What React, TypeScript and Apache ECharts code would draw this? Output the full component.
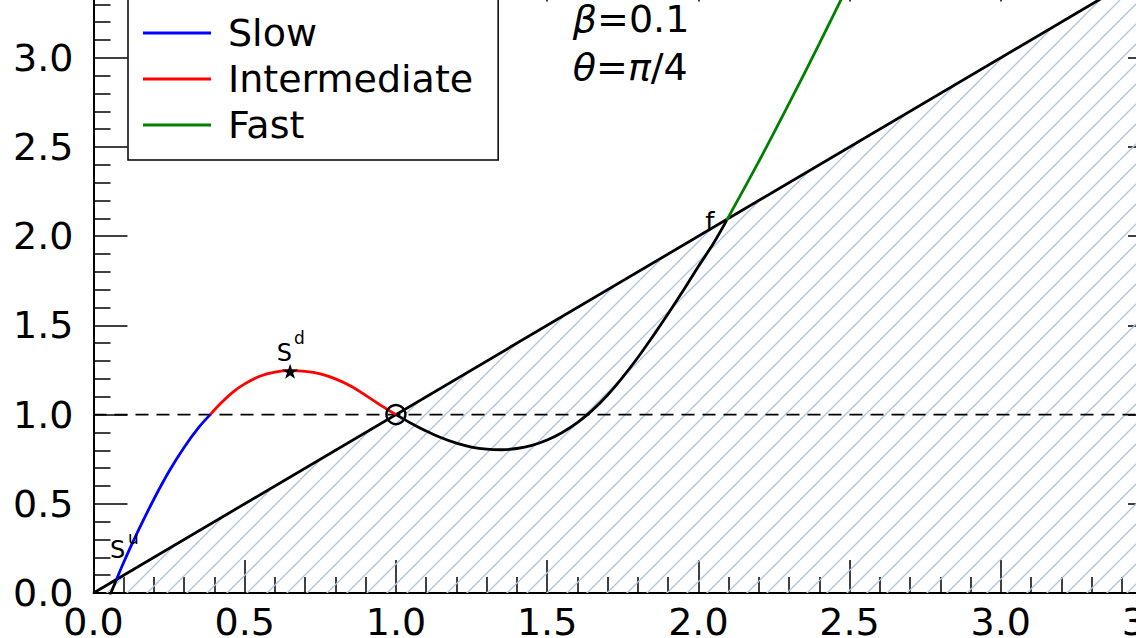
import React, { useEffect, useRef } from "react";
import * as echarts from "echarts";

// ---------- data ----------
const xRange: [number, number] = [0, 3.5];
const yRange: [number, number] = [0, 3.5];
const tickStep = 0.5;

const legendNames = ["Slow", "Intermediate", "Fast"];

// y = x boundary (hatched region lies below it)
const diagonalLine: [number, number][] = [[0, 0], [3.5, 3.5]];
// horizontal threshold y = 1
const thresholdLine: [number, number][] = [[0, 1], [3.5, 1]];

// black branch below the diagonal near the origin
const lowerBranchStart: [number, number][] = [[0.05, -0.03], [0.0575, 0], [0.076, 0.076]];

const slowCurve: [number, number][] = [
  [0.076, 0.076], [0.1, 0.172], [0.125, 0.267], [0.15, 0.357], [0.2, 0.527],
  [0.25, 0.682], [0.3, 0.817], [0.35, 0.932], [0.386, 1.0],
];

const intermediateCurve: [number, number][] = [
  [0.386, 1.0], [0.42, 1.062], [0.46, 1.125], [0.5, 1.172], [0.55, 1.215],
  [0.6, 1.238], [0.65, 1.246], [0.7, 1.242], [0.75, 1.228], [0.8, 1.2],
  [0.85, 1.16], [0.9, 1.108], [0.95, 1.052], [1.0, 1.0],
];

// black branch below the diagonal between the fixed point and f
const lowerBranchMid: [number, number][] = [
  [1.0, 1.0], [1.05, 0.952], [1.1, 0.908], [1.15, 0.87], [1.2, 0.84], [1.25, 0.818],
  [1.3, 0.806], [1.35, 0.803], [1.4, 0.81], [1.45, 0.828], [1.5, 0.858], [1.55, 0.9],
  [1.6, 0.955], [1.65, 1.025], [1.7, 1.11], [1.75, 1.21], [1.8, 1.32], [1.85, 1.44],
  [1.9, 1.565], [1.95, 1.695], [2.0, 1.83], [2.05, 1.96], [2.094, 2.09],
];

const fastCurve: [number, number][] = [
  [2.094, 2.09], [2.2, 2.419], [2.3, 2.744], [2.4, 3.079], [2.5, 3.424], [2.6, 3.779],
];

const fixedPoint: [number, number][] = [[1.0, 1.0]];
const peakPoint: [number, number][] = [[0.65, 1.243]];

// annotation texts with their anchor points (data coordinates)
const annotationTexts = ["S", "u", "S", "d", "f", "{it|β}=0.1", "{it|θ}={it|π}/4"];
const annotationAnchors: [number, number][] = [
  [0.08, 0.241], [0.132, 0.309], [0.631, 1.344], [0.681, 1.43], [2.038, 2.081],
  [1.585, 3.217], [1.585, 2.946],
];
const annotationKinds = ["label", "sup", "label", "sup", "flabel", "param", "param"];

// ---------- styles ----------
const FONT = "DejaVu Sans";
const W = 1236;
const H = 720;
const OFFSET_TOP = -60;
const LW = 2.8;

const kindStyle: Record<string, any> = {
  label: { fontSize: 24, position: "inside" },
  sup: { fontSize: 17, position: "inside" },
  flabel: { fontSize: 26, position: "inside" },
  param: { fontSize: 38, position: "right" },
};

function makeHatch() {
  const s = 20;
  const c = document.createElement("canvas");
  c.width = s;
  c.height = s;
  const ctx = c.getContext("2d")!;
  ctx.strokeStyle = "#b0c4de";
  ctx.lineWidth = 1.3;
  for (const k of [-s, 0, s]) {
    ctx.beginPath();
    ctx.moveTo(k, s);
    ctx.lineTo(k + s, 0);
    ctx.stroke();
  }
  return { image: c, repeat: "repeat", imageWidth: s, imageHeight: s };
}

const STAR =
  "path://M10,0L12.245,6.91L19.511,6.91L13.633,11.18L15.878,18.09L10,13.82L4.122,18.09L6.367,11.18L0.489,6.91L7.755,6.91Z";

export default function App() {
  const ref = useRef<HTMLDivElement>(null);

  useEffect(() => {
    if (!ref.current) return;
    const chart = echarts.init(ref.current, undefined, { renderer: "svg" });

    const tickCommon = {
      axisLine: { show: true, onZero: false, lineStyle: { color: "#000", width: 2 } },
      splitLine: { show: false },
    };
    const fmt = (v: number) => v.toFixed(1);

    const xAxisBase = {
      type: "value",
      min: xRange[0],
      max: xRange[1],
      interval: tickStep,
      ...tickCommon,
    };
    const yAxisBase = {
      type: "value",
      min: yRange[0],
      max: yRange[1],
      interval: tickStep,
      ...tickCommon,
    };

    const lineBase = {
      type: "line",
      showSymbol: false,
      symbol: "none",
      silent: true,
      clip: true,
      smooth: 0.35,
    };

    const option: any = {
      animation: false,
      backgroundColor: "#fff",
      grid: {
        left: 93.5,
        right: W - 1152,
        top: 28.6,
        bottom: H - (593 - OFFSET_TOP),
        containLabel: false,
        outerBoundsMode: "none",
      },
      legend: {
        data: legendNames,
        orient: "vertical",
        left: 128,
        top: 58,
        icon: "rect",
        itemWidth: 68,
        itemHeight: 3,
        itemGap: 8,
        padding: [16, 25, 16, 15],
        borderColor: "#000",
        borderWidth: 1.5,
        borderRadius: 0,
        backgroundColor: "#fff",
        selectedMode: false,
        z: 20,
        textStyle: {
          fontSize: 38,
          lineHeight: 38,
          fontFamily: FONT,
          color: "#000",
          padding: [0, 0, 0, 12],
        },
      },
      xAxis: [
        {
          ...xAxisBase,
          position: "bottom",
          axisTick: { show: true, inside: true, length: 33, lineStyle: { color: "#000", width: 1.5 } },
          minorTick: { show: true, splitNumber: 5, length: 16, lineStyle: { color: "#000", width: 1.5 } },
          axisLabel: { show: true, fontSize: 38, fontFamily: FONT, color: "#000", margin: 10, formatter: fmt },
        },
        {
          ...xAxisBase,
          position: "top",
          axisTick: { show: true, inside: true, length: 33, lineStyle: { color: "#000", width: 1.5 } },
          minorTick: { show: true, splitNumber: 5, length: 16, lineStyle: { color: "#000", width: 1.5 } },
          axisLabel: { show: false },
        },
      ],
      yAxis: [
        {
          ...yAxisBase,
          position: "left",
          axisTick: { show: true, inside: true, length: 34, lineStyle: { color: "#000", width: 1.5 } },
          minorTick: { show: true, splitNumber: 5, length: 17, lineStyle: { color: "#000", width: 1.5 } },
          axisLabel: { show: true, fontSize: 38, fontFamily: FONT, color: "#000", margin: 20, formatter: fmt },
        },
        {
          ...yAxisBase,
          position: "right",
          axisTick: { show: true, inside: true, length: 24, lineStyle: { color: "#000", width: 1.5 } },
          minorTick: { show: true, splitNumber: 5, length: 12, lineStyle: { color: "#000", width: 1.5 } },
          axisLabel: { show: false },
        },
      ],
      series: [
        {
          ...lineBase,
          name: "region",
          smooth: false,
          data: diagonalLine,
          lineStyle: { width: 0, opacity: 0 },
          areaStyle: { color: makeHatch(), opacity: 1 },
          z: 1,
        },
        {
          ...lineBase,
          name: "diagonal",
          smooth: false,
          data: diagonalLine,
          lineStyle: { color: "#000", width: LW },
          z: 3,
        },
        {
          ...lineBase,
          name: "threshold",
          smooth: false,
          data: thresholdLine,
          lineStyle: { color: "#000", width: 1.6, type: [13, 8] },
          z: 3,
        },
        {
          ...lineBase,
          name: "lowerStart",
          smooth: false,
          data: lowerBranchStart,
          lineStyle: { color: "#000", width: LW },
          z: 3,
        },
        {
          ...lineBase,
          name: "lowerMid",
          data: lowerBranchMid,
          lineStyle: { color: "#000", width: LW },
          z: 3,
        },
        {
          ...lineBase,
          name: "Slow",
          data: slowCurve,
          itemStyle: { color: "#0000ff" },
          lineStyle: { color: "#0000ff", width: LW },
          z: 4,
        },
        {
          ...lineBase,
          name: "Intermediate",
          data: intermediateCurve,
          itemStyle: { color: "#ff0000" },
          lineStyle: { color: "#ff0000", width: LW },
          z: 4,
        },
        {
          ...lineBase,
          name: "Fast",
          data: fastCurve,
          itemStyle: { color: "#008000" },
          lineStyle: { color: "#008000", width: LW },
          z: 4,
        },
        {
          type: "scatter",
          name: "fixed",
          silent: true,
          data: fixedPoint,
          symbol: "circle",
          symbolSize: 19,
          itemStyle: { color: "rgba(0,0,0,0)", borderColor: "#000", borderWidth: 2.4, opacity: 1 },
          z: 6,
        },
        {
          type: "scatter",
          name: "peak",
          silent: true,
          data: peakPoint,
          symbol: STAR,
          symbolSize: [16, 15],
          itemStyle: { color: "#000", opacity: 1 },
          z: 6,
        },
        {
          type: "scatter",
          name: "annotations",
          silent: true,
          symbolSize: 0,
          itemStyle: { opacity: 1 },
          z: 7,
          data: annotationTexts.map((t, i) => {
            const st = kindStyle[annotationKinds[i]];
            return {
              value: annotationAnchors[i],
              label: {
                show: true,
                position: st.position,
                distance: 0,
                formatter: t,
                fontSize: st.fontSize,
                fontFamily: FONT,
                color: "#000",
                opacity: 1,
                rich: {
                  it: { fontSize: st.fontSize, fontFamily: FONT, fontStyle: "italic", color: "#000" },
                },
              },
            };
          }),
        },
      ],
    };

    chart.setOption(option);
    return () => chart.dispose();
  }, []);

  return (
    <div
      style={{
        position: "fixed",
        left: 0,
        top: 0,
        width: 1136,
        height: 638,
        overflow: "hidden",
        background: "#fff",
      }}
    >
      <div
        ref={ref}
        style={{ position: "absolute", left: 0, top: OFFSET_TOP, width: W, height: H }}
      />
    </div>
  );
}
